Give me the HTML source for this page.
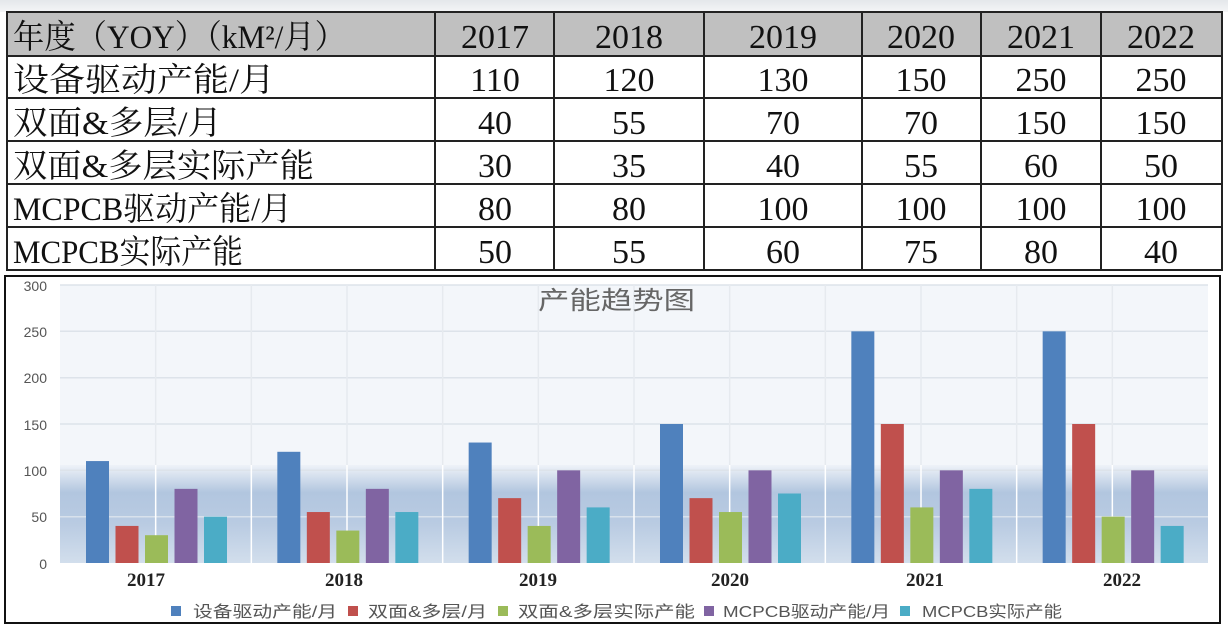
<!DOCTYPE html>
<html><head><meta charset="utf-8"><style>
html,body{margin:0;padding:0;background:#fff;}
svg{display:block;}
.t{font-family:"Liberation Serif","Noto Serif CJK SC",serif;font-size:33px;fill:#111;}
.n{font-family:"Liberation Serif",serif;font-size:34px;fill:#111;text-anchor:middle;}
.ax{font-family:"Liberation Sans","DejaVu Sans",sans-serif;font-size:14px;fill:#555;text-anchor:end;}
.xl{font-family:"Liberation Serif",serif;font-size:19px;font-weight:bold;fill:#222;text-anchor:middle;}
.lg{font-family:"Liberation Sans","Noto Sans CJK SC",sans-serif;font-size:16px;fill:#555;}
</style></head><body>
<svg width="1228" height="628" viewBox="0 0 1228 628" xmlns="http://www.w3.org/2000/svg">
<defs>
<linearGradient id="band" x1="0" y1="0" x2="0" y2="1">
<stop offset="0" stop-color="#eef2f8"/>
<stop offset="0.28" stop-color="#b2c6df"/>
<stop offset="0.6" stop-color="#b9cbe2"/>
<stop offset="1" stop-color="#d2deec"/>
</linearGradient>
<linearGradient id="top" x1="0" y1="0" x2="0" y2="1">
<stop offset="0" stop-color="#e4e7ea"/><stop offset="1" stop-color="#f4f5f6"/>
</linearGradient>
</defs>
<rect x="0" y="0" width="1228" height="12" fill="url(#top)"/>
<rect x="7" y="12" width="1215" height="44" fill="#c0c0c0"/>
<g stroke="#222" stroke-width="2" fill="none">
<rect x="7" y="12" width="1215" height="258"/>
<line x1="7" y1="56" x2="1222" y2="56"/>
<line x1="7" y1="98" x2="1222" y2="98"/>
<line x1="7" y1="141" x2="1222" y2="141"/>
<line x1="7" y1="184" x2="1222" y2="184"/>
<line x1="7" y1="227" x2="1222" y2="227"/>
<line x1="435" y1="12" x2="435" y2="270"/>
<line x1="554" y1="12" x2="554" y2="270"/>
<line x1="704" y1="12" x2="704" y2="270"/>
<line x1="862" y1="12" x2="862" y2="270"/>
<line x1="981" y1="12" x2="981" y2="270"/>
<line x1="1101" y1="12" x2="1101" y2="270"/>
</g>
<text class="t" x="13" y="48" textLength="333" lengthAdjust="spacingAndGlyphs">年度（YOY）（kM²/月）</text>
<text class="t" x="13" y="91" textLength="262" lengthAdjust="spacingAndGlyphs">设备驱动产能/月</text>
<text class="t" x="13" y="134" textLength="209" lengthAdjust="spacingAndGlyphs">双面&amp;多层/月</text>
<text class="t" x="13" y="177" textLength="301" lengthAdjust="spacingAndGlyphs">双面&amp;多层实际产能</text>
<text class="t" x="13" y="220" textLength="279" lengthAdjust="spacingAndGlyphs">MCPCB驱动产能/月</text>
<text class="t" x="13" y="263" textLength="230" lengthAdjust="spacingAndGlyphs">MCPCB实际产能</text>
<g class="n">
<text x="495" y="48">2017</text><text x="629" y="48">2018</text><text x="783" y="48">2019</text><text x="921" y="48">2020</text><text x="1041" y="48">2021</text><text x="1161" y="48">2022</text>
<text x="495" y="91">110</text><text x="629" y="91">120</text><text x="783" y="91">130</text><text x="921" y="91">150</text><text x="1041" y="91">250</text><text x="1161" y="91">250</text>
<text x="495" y="134">40</text><text x="629" y="134">55</text><text x="783" y="134">70</text><text x="921" y="134">70</text><text x="1041" y="134">150</text><text x="1161" y="134">150</text>
<text x="495" y="177">30</text><text x="629" y="177">35</text><text x="783" y="177">40</text><text x="921" y="177">55</text><text x="1041" y="177">60</text><text x="1161" y="177">50</text>
<text x="495" y="220">80</text><text x="629" y="220">80</text><text x="783" y="220">100</text><text x="921" y="220">100</text><text x="1041" y="220">100</text><text x="1161" y="220">100</text>
<text x="495" y="263">50</text><text x="629" y="263">55</text><text x="783" y="263">60</text><text x="921" y="263">75</text><text x="1041" y="263">80</text><text x="1161" y="263">40</text>
</g>
<rect x="5" y="276" width="1215" height="347" fill="#fff" stroke="#111" stroke-width="2"/>
<rect x="60" y="285" width="1148" height="278" fill="#f3f6fa"/>
<rect x="60" y="465" width="1148" height="98" fill="url(#band)"/>
<g stroke="#dde3ea" stroke-width="1.5">
<line x1="60" y1="285" x2="1208" y2="285"/>
<line x1="60" y1="331.3" x2="1208" y2="331.3"/>
<line x1="60" y1="377.7" x2="1208" y2="377.7"/>
<line x1="60" y1="424" x2="1208" y2="424"/>
<line x1="60" y1="470.3" x2="1208" y2="470.3"/>
<line x1="60" y1="516.7" x2="1208" y2="516.7" stroke="#d8e1ec"/>
</g>
<g stroke="#e6eaef" stroke-width="1.5" id="vg"></g>
<g class="ax">
<text x="47" y="291">300</text><text x="47" y="337">250</text><text x="47" y="383">200</text>
<text x="47" y="430">150</text><text x="47" y="476">100</text><text x="47" y="522">50</text><text x="47" y="569">0</text>
</g>
<text x="538" y="309" textLength="157" lengthAdjust="spacingAndGlyphs" style="font-family:'Liberation Sans','Noto Sans CJK SC',sans-serif;font-size:25px;fill:#666">产能趋势图</text>
<g id="bars"></g>
<g class="xl">
<text x="146" y="586">2017</text><text x="344" y="586">2018</text><text x="538" y="586">2019</text>
<text x="730" y="586">2020</text><text x="925" y="586">2021</text><text x="1122" y="586">2022</text>
</g>
<g class="lg">
<rect x="171" y="606" width="10" height="10" fill="#4f81bd"/><text x="193" y="617" textLength="144" lengthAdjust="spacingAndGlyphs">设备驱动产能/月</text>
<rect x="348" y="606" width="10" height="10" fill="#c0504d"/><text x="368" y="617" textLength="119" lengthAdjust="spacingAndGlyphs">双面&amp;多层/月</text>
<rect x="498" y="606" width="10" height="10" fill="#9bbb59"/><text x="518" y="617" textLength="177" lengthAdjust="spacingAndGlyphs">双面&amp;多层实际产能</text>
<rect x="704" y="606" width="10" height="10" fill="#8064a2"/><text x="723" y="617" textLength="167" lengthAdjust="spacingAndGlyphs">MCPCB驱动产能/月</text>
<rect x="900" y="606" width="10" height="10" fill="#4bacc6"/><text x="922" y="617" textLength="140" lengthAdjust="spacingAndGlyphs">MCPCB实际产能</text>
</g>
</svg>
<script>
var data=[[110,40,30,80,50],[120,55,35,80,55],[130,70,40,100,60],[150,70,55,100,75],[250,150,60,100,80],[250,150,50,100,40]];
var cols=["#4f81bd","#c0504d","#9bbb59","#8064a2","#4bacc6"];
var ns="http://www.w3.org/2000/svg",g=document.getElementById("bars"),vg=document.getElementById("vg");
var cw=1148/6;
for(var k=1;k<12;k++){var x=60+cw/2*k;
 var l=document.createElementNS(ns,"line");l.setAttribute("x1",x);l.setAttribute("x2",x);l.setAttribute("y1",285);l.setAttribute("y2",465);vg.appendChild(l);
 var l2=document.createElementNS(ns,"line");l2.setAttribute("x1",x);l2.setAttribute("x2",x);l2.setAttribute("y1",465);l2.setAttribute("y2",563);l2.setAttribute("stroke","#ffffff");vg.appendChild(l2);}
for(var i=0;i<6;i++)for(var j=0;j<5;j++){var v=data[i][j],h=v*278/300;
 var r=document.createElementNS(ns,"rect");r.setAttribute("x",60+cw*i+26+29.5*j);r.setAttribute("width",23);
 r.setAttribute("y",563-h);r.setAttribute("height",h);r.setAttribute("fill",cols[j]);g.appendChild(r);}
</script>
</body></html>
